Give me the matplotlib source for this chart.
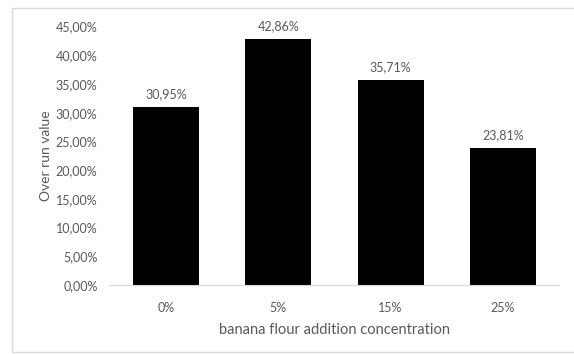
import matplotlib
matplotlib.use("Agg")
import matplotlib.pyplot as plt
from matplotlib.patches import Rectangle
from matplotlib.ticker import FuncFormatter

categories = ["0%", "5%", "15%", "25%"]
values = [30.95, 42.86, 35.71, 23.81]
labels = ["30,95%", "42,86%", "35,71%", "23,81%"]

plt.rcParams['font.family'] = ['Lato', 'DejaVu Sans']

fig = plt.figure(figsize=(5.74, 3.54), dpi=100)
fig.patch.set_facecolor('white')
# outer chart border
fig.patches.append(Rectangle((12/574, 0.005), 1.0, 1 - 8/354 - 0.005, transform=fig.transFigure,
                             fill=False, edgecolor='#d9d9d9', linewidth=1.0))

ax = fig.add_axes([110/574, 1 - 285/354, (559 - 110)/574, (285 - 26.5)/354])
x = range(len(categories))
ax.bar(x, values, width=0.59, color='black')
for xi, v, lab in zip(x, values, labels):
    ax.text(xi, v + 1.2, lab, ha='center', va='bottom', fontsize=9, color='#595959')

ax.set_xlim(-0.5, 3.5)
ax.set_ylim(0, 45)
ax.set_yticks([0, 5, 10, 15, 20, 25, 30, 35, 40, 45])
ax.yaxis.set_major_formatter(FuncFormatter(lambda v, p: f"{v:.2f}".replace('.', ',') + "%"))
ax.set_xticks(list(x))
ax.set_xticklabels(categories)
ax.tick_params(axis='both', length=0, labelsize=9, colors='#595959')
ax.tick_params(axis='x', pad=12)
ax.tick_params(axis='y', pad=9)
for s in ['top', 'right', 'left']:
    ax.spines[s].set_visible(False)
ax.spines['bottom'].set_color('#d9d9d9')
ax.set_xlabel("banana flour addition concentration", fontsize=10.5, color='#595959', labelpad=7)
ax.set_ylabel("Over run value", fontsize=10, color='#595959', labelpad=3)

fig.savefig("out.png", dpi=100, facecolor='white')
